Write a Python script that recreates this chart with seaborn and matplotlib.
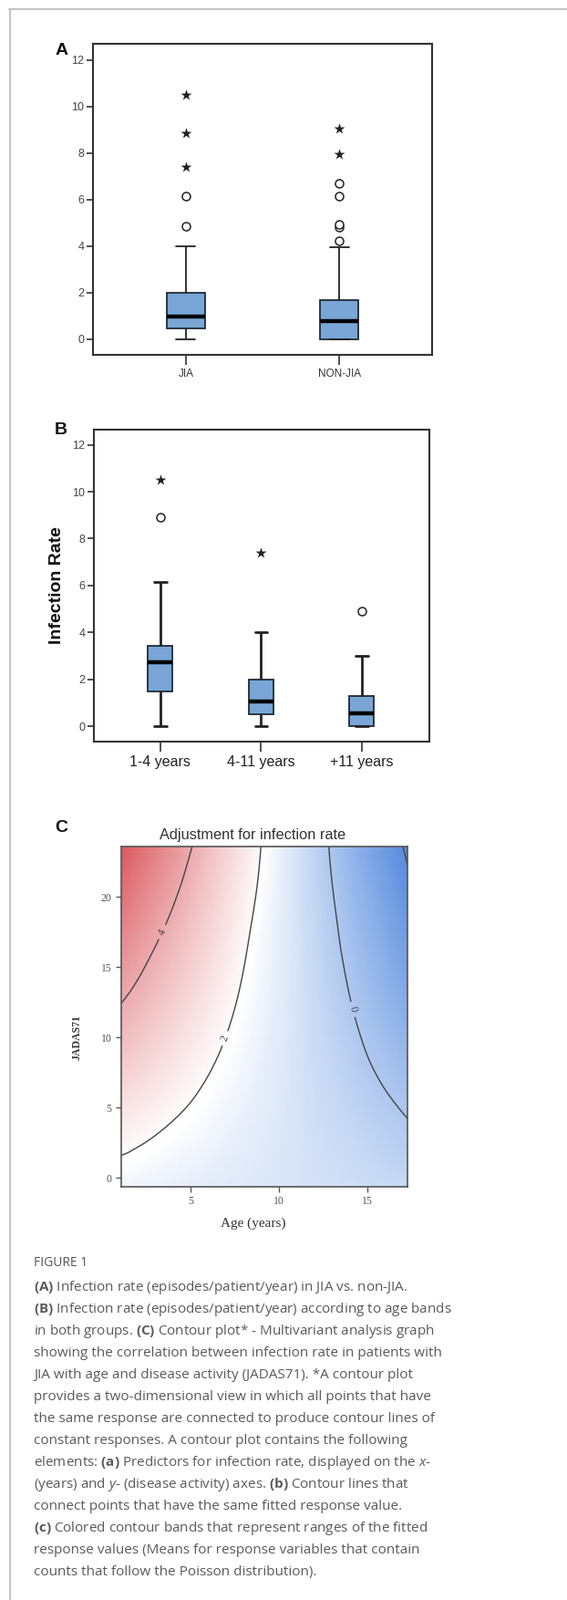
import numpy as np
import pandas as pd
import matplotlib
matplotlib.use("Agg")
import matplotlib.pyplot as plt
import matplotlib.tri as mtri
from matplotlib.colors import LinearSegmentedColormap, TwoSlopeNorm
from matplotlib.lines import Line2D
import seaborn as sns

# ---- panel A: five-number summaries (min, Q1, median, Q3, top whisker) + outliers
groups_a = ["JIA", "NON-JIA"]
core_a = [
    [0.0, 0.45, 0.97, 2.0, 4.0],
    [0.0, 0.0, 0.8, 1.69, 3.95],
]
circles_a = [[4.85, 6.15], [4.25, 4.8, 4.95, 6.15, 6.7]]
stars_a = [[7.4, 8.85, 10.5], [7.95, 9.05]]

# ---- panel B: age bands
groups_b = ["1-4 years", "4-11 years", "+11 years"]
core_b = [
    [0.0, 1.49, 2.74, 3.42, 6.15],
    [0.0, 0.49, 1.05, 1.99, 4.0],
    [0.0, 0.0, 0.56, 1.3, 3.0],
]
circles_b = [[8.9], [], [4.9]]
stars_b = [[10.5], [7.4], []]

# ---- panel C: fitted infection rate
age_grid = [1, 3, 5, 7, 9, 11, 13, 15, 17.5]
jadas_grid = [-1, 3, 7, 11, 15, 19, 24]
rate_grid = [
    [1.51, 1.40, 1.29, 1.17, 1.06, 0.95, 0.84, 0.73, 0.59],
    [2.26, 2.00, 1.74, 1.47, 1.21, 0.95, 0.69, 0.43, 0.10],
    [3.01, 2.60, 2.18, 1.77, 1.36, 0.95, 0.54, 0.13, -0.39],
    [3.76, 3.19, 2.63, 2.07, 1.51, 0.95, 0.39, -0.17, -0.87],
    [4.50, 3.79, 3.08, 2.37, 1.66, 0.95, 0.24, -0.47, -1.36],
    [5.25, 4.39, 3.53, 2.67, 1.81, 0.95, 0.09, -0.77, -1.80],
    [6.19, 5.14, 4.09, 3.04, 2.00, 0.95, -0.10, -1.14, -2.25],
]
contour_levels = [-2, 0, 2, 4]
label_spots = [(3.4, 17.5), (6.8, 10.0), (14.2, 12.0)]

caption_title = "FIGURE 1"
caption_lines = [
    r"$\mathbf{(A)}$ Infection rate (episodes/patient/year) in JIA vs. non-JIA.",
    r"$\mathbf{(B)}$ Infection rate (episodes/patient/year) according to age bands",
    r"in both groups. $\mathbf{(C)}$ Contour plot* - Multivariant analysis graph",
    "showing the correlation between infection rate in patients with",
    "JIA with age and disease activity (JADAS71). *A contour plot",
    "provides a two-dimensional view in which all points that have",
    "the same response are connected to produce contour lines of",
    "constant responses. A contour plot contains the following",
    r"elements: $\mathbf{(a)}$ Predictors for infection rate, displayed on the $\mathit{x}$-",
    r"(years) and $\mathit{y}$- (disease activity) axes. $\mathbf{(b)}$ Contour lines that",
    "connect points that have the same fitted response value.",
    r"$\mathbf{(c)}$ Colored contour bands that represent ranges of the fitted",
    "response values (Means for response variables that contain",
    "counts that follow the Poisson distribution).",
]

BOX_FILL = "#79A6D6"
EDGE = "#1f2a36"
NARROW = ["Liberation Sans Narrow", "Liberation Sans", "DejaVu Sans"]
SERIF = ["Liberation Serif", "DejaVu Serif"]


def long_frame(groups, values):
    rows = []
    for g, vals in zip(groups, values):
        for v in vals:
            rows.append({"group": g, "rate": v})
    return pd.DataFrame(rows, columns=["group", "rate"])


def draw_boxes(ax, groups, cores, circles, stars, width, line_w):
    sns.boxplot(
        data=long_frame(groups, cores), x="group", y="rate", order=groups,
        width=width, color=BOX_FILL, saturation=1, linecolor=EDGE,
        linewidth=1.3, showfliers=False, whis=1.5,
        medianprops={"color": "black", "linewidth": 3.2},
        whiskerprops={"linewidth": line_w, "color": "#222"},
        capprops={"linewidth": line_w, "color": "#222"},
        ax=ax,
    )
    circ = long_frame(groups, circles)
    if len(circ):
        sns.stripplot(data=circ, x="group", y="rate", order=groups, jitter=False,
                      marker="o", size=6.5, color="white", edgecolor="#222",
                      linewidth=1.1, ax=ax)
    star = long_frame(groups, stars)
    if len(star):
        sns.stripplot(data=star, x="group", y="rate", order=groups, jitter=False,
                      marker="*", size=9, color="#222", linewidth=0, ax=ax)
    ax.set_xlabel("")
    ax.set_yticks(range(0, 13, 2))
    for s in ax.spines.values():
        s.set_visible(True)
        s.set_color("#333333")
        s.set_linewidth(1.5)
    ax.tick_params(axis="both", direction="out", color="#333333", width=1.2,
                   left=True, bottom=True)
    ax.tick_params(axis="y", length=5, labelsize=9, labelcolor="#444444", pad=2)
    ax.tick_params(axis="x", length=8, labelcolor="#333333", pad=3)
    for t in ax.get_yticklabels():
        t.set_fontfamily(NARROW)


sns.set_theme(style="white")
plt.rcParams["font.family"] = ["Liberation Sans", "DejaVu Sans"]
plt.rcParams["mathtext.fontset"] = "custom"
plt.rcParams["mathtext.rm"] = "Open Sans"
plt.rcParams["mathtext.bf"] = "Open Sans:bold"
plt.rcParams["mathtext.it"] = "Open Sans:italic"
plt.rcParams["contour.negative_linestyle"] = "solid"

fig = plt.figure(figsize=(6.22, 17.54), dpi=100)
W, H = 622, 1754


def px_axes(left, top, right, bottom):
    return fig.add_axes([left / W, 1 - bottom / H, (right - left) / W, (bottom - top) / H])


# ---------------- panel A
ax_a = px_axes(102, 48, 474, 389)
draw_boxes(ax_a, groups_a, core_a, circles_a, stars_a, 0.25, 1.3)
ax_a.set_ylabel("")
ax_a.set_xlim(-0.606, 1.606)
ax_a.set_ylim(-0.67, 12.7)
for t in ax_a.get_xticklabels():
    t.set_fontfamily(NARROW)
    t.set_fontsize(8.5)

# ---------------- panel B
ax_b = px_axes(103, 471, 471, 813)
draw_boxes(ax_b, groups_b, core_b, circles_b, stars_b, 0.245, 2.0)
ax_b.set_xlim(-0.66, 2.67)
ax_b.set_ylim(-0.66, 12.65)
ax_b.set_ylabel("Infection Rate", fontsize=14, fontweight="bold", color="#111111")
ax_b.yaxis.set_label_coords(-0.087, 0.5)
for t in ax_b.get_xticklabels():
    t.set_fontfamily(NARROW)
    t.set_fontsize(11.5)
    t.set_color("#222222")

# ---------------- panel C
ax_c = px_axes(133, 928, 447, 1301)
X, Y = np.meshgrid(age_grid, jadas_grid)
Z = np.array(rate_grid)
tri = mtri.Triangulation(X.ravel(), Y.ravel())
interp = mtri.CubicTriInterpolator(tri, Z.ravel(), kind="geom")
tri_f, z_f = mtri.UniformTriRefiner(tri).refine_field(Z.ravel(), triinterpolator=interp, subdiv=4)
cmap = LinearSegmentedColormap.from_list("rate", ["#4F86DC", "#FFFFFF", "#D9535A"])
norm = TwoSlopeNorm(vmin=-2.3, vcenter=1.9, vmax=6.2)
ax_c.tripcolor(tri_f, z_f, shading="gouraud", cmap=cmap, norm=norm)
cs = ax_c.tricontour(tri_f, z_f, levels=contour_levels, colors="#454545", linewidths=1.0)
labels = ax_c.clabel(cs, manual=label_spots, inline=True, fontsize=8.5, fmt="%d")
for t in labels:
    t.set_fontfamily(SERIF)
ax_c.set_xlim(1.08, 17.27)
ax_c.set_ylim(-0.65, 23.6)
ax_c.set_xticks([5, 10, 15])
ax_c.set_yticks([0, 5, 10, 15, 20])
for s in ax_c.spines.values():
    s.set_visible(True)
    s.set_color("#555555")
    s.set_linewidth(1.2)
ax_c.tick_params(axis="both", direction="out", length=4, width=1, color="#555555",
                 labelsize=8.5, labelcolor="#555555", left=True, bottom=True)
for t in ax_c.get_xticklabels() + ax_c.get_yticklabels():
    t.set_fontfamily(SERIF)
ax_c.set_title("Adjustment for infection rate", fontsize=11.8, color="#333333",
               fontfamily=NARROW, x=0.46, pad=6)
ax_c.set_xlabel("Age (years)", fontsize=11, color="#333333", fontfamily=SERIF)
ax_c.xaxis.set_label_coords(0.46, -0.09)
ax_c.set_ylabel("JADAS71", fontsize=8.5, color="#333333", fontfamily=SERIF, fontweight="bold")
ax_c.yaxis.set_label_coords(-0.135, 0.44)

# ---------------- panel letters
for letter, (lx, ly) in zip("ABC", [(68, 55), (67, 472), (67, 907)]):
    fig.text(lx / W, 1 - ly / H, letter, fontsize=14, fontweight="bold",
             ha="center", va="center", color="#111111")

# ---------------- caption
fig.text(37 / W, 1 - 1385 / H, caption_title, fontsize=10, color="#555555",
         fontfamily="Open Sans", va="center")
for i, line in enumerate(caption_lines):
    fig.text(37 / W, 1 - (1411.5 + 24 * i) / H, line, fontsize=11, color="#5a5a5a",
             fontfamily="Open Sans", va="center")

# ---------------- outer frame
fig.add_artist(Line2D([10 / W, 1], [1 - 10 / H, 1 - 10 / H], transform=fig.transFigure,
                      color="#c4c4c4", lw=1.5))
fig.add_artist(Line2D([11 / W, 11 / W], [0, 1 - 10 / H], transform=fig.transFigure,
                      color="#c4c4c4", lw=1.5))

fig.savefig("out.png", dpi=100)
